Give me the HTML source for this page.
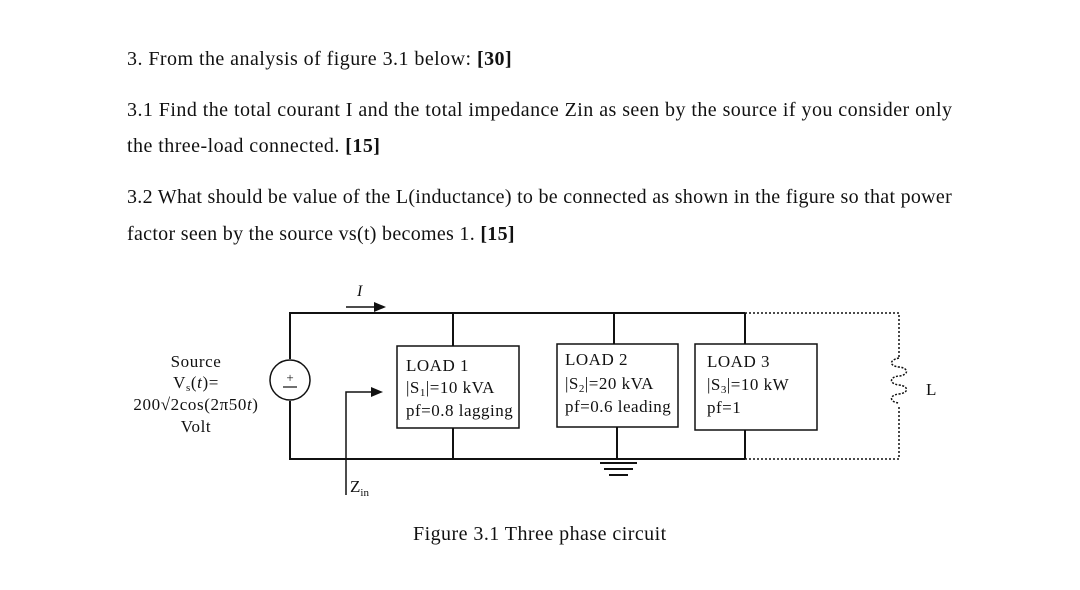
<!DOCTYPE html>
<html><head><style>
body{margin:0;width:1080px;height:590px;background:#fff;position:relative;font-family:"Liberation Serif",serif;color:#111;overflow:hidden}
.t{position:absolute;left:127px;font-size:20px;letter-spacing:0.45px;white-space:nowrap}
</style></head><body>
<div class="t" style="top:48px">3. From the analysis of figure 3.1 below: <b>[30]</b></div>
<div class="t" style="top:99px">3.1 Find the total courant I and the total impedance Zin as seen by the source if you consider only</div>
<div class="t" style="top:135px">the three-load connected. <b>[15]</b></div>
<div class="t" style="top:186px;letter-spacing:0.29px">3.2 What should be value of the L(inductance) to be connected as shown in the figure so that power</div>
<div class="t" style="top:223px;letter-spacing:0.3px">factor seen by the source vs(t) becomes 1. <b>[15]</b></div>
<svg width="1080" height="590" style="position:absolute;left:0;top:0" font-family="Liberation Serif, serif" fill="#111">
<g stroke="#111" stroke-width="2" fill="none">
<polyline points="290,359 290,313 745,313"/>
<polyline points="290,401 290,459 745,459"/>
<circle cx="290" cy="380" r="20" stroke-width="1.5"/>
<line x1="453" y1="313" x2="453" y2="346"/><line x1="453" y1="428" x2="453" y2="459"/>
<line x1="614" y1="313" x2="614" y2="344"/><line x1="617" y1="427" x2="617" y2="459"/>
<line x1="745" y1="313" x2="745" y2="344"/><line x1="745" y1="430" x2="745" y2="459"/>
<rect x="397" y="346" width="122" height="82" stroke-width="1.5"/>
<rect x="557" y="344" width="121" height="83" stroke-width="1.5"/>
<rect x="695" y="344" width="122" height="86" stroke-width="1.5"/>
<line x1="600" y1="463" x2="637" y2="463"/><line x1="604" y1="469" x2="633" y2="469"/><line x1="609" y1="475" x2="628" y2="475"/>
<line x1="346" y1="307" x2="376" y2="307" stroke-width="1.5"/>
<polyline points="346,495 346,392 373,392" stroke-width="1.5"/>
<path d="M745 313 H899 V358 M899 407 V459 H745" stroke-dasharray="2,2" stroke-width="1.5"/>
<path d="M899 358 c-10 2 -10 8 0 9 c10 1 10 8 0 9 c-10 1 -10 8 0 9 c10 1 10 8 0 9 c-10 1 -10 8 0 9" stroke-dasharray="2,1.5" stroke-width="1.5"/>
<line x1="283" y1="387" x2="297" y2="387" stroke-width="1.2"/>
</g>
<polygon points="386,307 374,302 374,312"/>
<polygon points="383,392 371,387 371,397"/>
<text x="290" y="382" font-size="13" text-anchor="middle">+</text>
<text x="357" y="296" font-size="16" font-style="italic">I</text>
<text x="350" y="492" font-size="17">Z<tspan font-size="11" dy="4">in</tspan></text>
<g font-size="17" letter-spacing="0.6" text-anchor="middle">
<text x="196" y="367">Source</text>
<text x="196" y="388">V<tspan font-size="11" dy="3">s</tspan><tspan dy="-3">(</tspan><tspan font-style="italic">t</tspan>)=</text>
<text x="196" y="410">200√2cos(2π50<tspan font-style="italic">t</tspan>)</text>
<text x="196" y="432">Volt</text>
</g>
<g font-size="17" letter-spacing="0.5">
<text x="406" y="371">LOAD 1</text>
<text x="406" y="393">|S<tspan font-size="11" dy="3">1</tspan><tspan dy="-3">|=10 kVA</tspan></text>
<text x="406" y="416">pf=0.8 lagging</text>
<text x="565" y="365">LOAD 2</text>
<text x="565" y="389">|S<tspan font-size="11" dy="3">2</tspan><tspan dy="-3">|=20 kVA</tspan></text>
<text x="565" y="412">pf=0.6 leading</text>
<text x="707" y="367">LOAD 3</text>
<text x="707" y="390">|S<tspan font-size="11" dy="3">3</tspan><tspan dy="-3">|=10 kW</tspan></text>
<text x="707" y="413">pf=1</text>
<text x="926" y="395">L</text>
</g>
<text x="413" y="540" font-size="20" letter-spacing="0.45">Figure 3.1 Three phase circuit</text>
</svg>
</body></html>
